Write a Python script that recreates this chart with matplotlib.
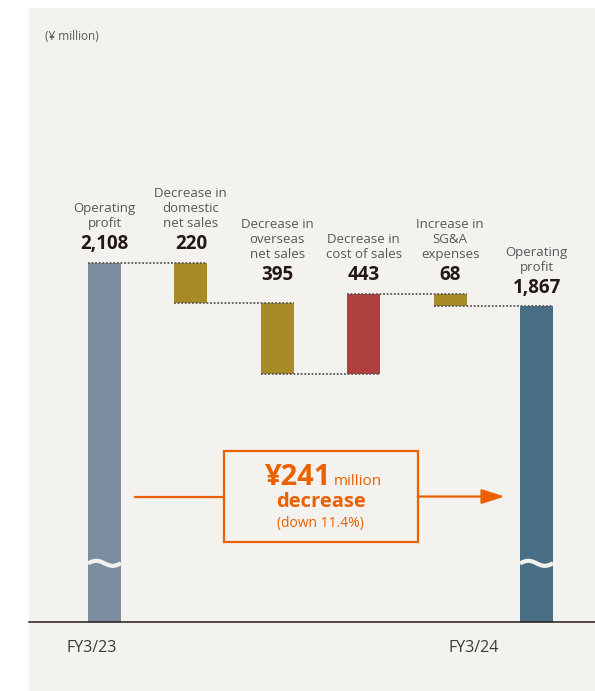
import numpy as np
import matplotlib.pyplot as plt
from matplotlib.patches import Rectangle

plt.rcParams['font.family'] = ['Open Sans', 'DejaVu Sans']

# data
labels = ['Operating\nprofit', 'Decrease in\ndomestic\nnet sales', 'Decrease in\noverseas\nnet sales',
          'Decrease in\ncost of sales', 'Increase in\nSG&A\nexpenses', 'Operating\nprofit']
value_text = ['2,108', '220', '395', '443', '68', '1,867']
start = 2108
changes = [-220, -395, 443, -68]
end = 1867
years = ['FY3/23', 'FY3/24']
summary_amount = '¥241'
summary_pct = '(down 11.4%)'

grey_bar = '#7b8d9e'
dark_bar = '#4a6e85'
gold = '#a88a27'
red = '#b03f40'
orange = '#eb6100'
panel = '#f3f2ee'

fig = plt.figure(figsize=(5.95, 6.91), dpi=100)
fig.patch.set_facecolor('white')
fig.patches.append(Rectangle((29 / 595, 0), 1, 1 - 8 / 691, transform=fig.transFigure,
                             facecolor=panel, edgecolor='none', zorder=-10))

ax = fig.add_axes([29 / 595, 69 / 691, 566 / 595, 614 / 691])
ax.set_facecolor('none')

x = np.arange(6)
w = 0.38

# running totals
levels = [start]
for c in changes:
    levels.append(levels[-1] + c)

ax.bar(x[0], start, width=w, color=grey_bar, zorder=2)
ax.bar(x[5], end, width=w, color=dark_bar, zorder=2)
for i, c in enumerate(changes):
    lo = min(levels[i], levels[i + 1])
    ax.bar(x[i + 1], abs(c), bottom=lo, width=w, color=red if c > 0 else gold, zorder=2)

# dotted connectors
for i in range(5):
    ax.plot([x[i] - w / 2, x[i + 1] + w / 2], [levels[i]] * 2,
            color='#595757', lw=1.3, ls=(0, (1, 1)), zorder=3)

# labels above bars
tops = [start, levels[0], max(levels[2], levels[3]), max(levels[2], levels[3]),
        max(levels[3], levels[4]), end]
for i in range(6):
    ax.annotate(value_text[i], (x[i], tops[i]), xytext=(0, 10), textcoords='offset points',
                ha='center', va='baseline', fontsize=13.5, fontweight='bold', color='#231815')
    ax.annotate(labels[i], (x[i], tops[i]), xytext=(0, 23.5), textcoords='offset points',
                ha='center', va='bottom', fontsize=9.5, color='#595757', linespacing=1.2)

# axis break marks
brk = 440
t = np.linspace(0, 1, 50)
for i in [0, 5]:
    ax.plot(x[i] - w / 2 + t * w, brk + 14 * np.sin(2 * np.pi * t),
            color=panel, lw=3, zorder=4, solid_capstyle='butt')

# summary box and arrow
bx0, bx1 = 1.381, 3.624
by0, by1 = 558, 1064
cy = (by0 + by1) / 2
cx = (bx0 + bx1) / 2
ax.add_patch(Rectangle((bx0, by0), bx1 - bx0, by1 - by0, facecolor='none',
                       edgecolor=orange, lw=1.6, zorder=5))
ax.plot([0.353, bx0], [cy, cy], color=orange, lw=1.6, zorder=5)
ax.annotate('', xy=(4.63, cy), xytext=(bx1, cy),
            arrowprops=dict(arrowstyle='-|>,head_length=1.4,head_width=0.45',
                            color=orange, lw=1.6, shrinkA=0, shrinkB=0), zorder=5)
ax.annotate(summary_amount, (cx, cy), xytext=(8, 8.3), textcoords='offset points',
            ha='right', va='baseline', fontsize=21, fontweight='bold', color=orange)
ax.annotate('million', (cx, cy), xytext=(9.4, 8.3), textcoords='offset points',
            ha='left', va='baseline', fontsize=11, color=orange)
ax.annotate('decrease', (cx, cy), xytext=(0, -7.6), textcoords='offset points',
            ha='center', va='baseline', fontsize=14.5, fontweight='bold', color=orange)
ax.annotate(summary_pct, (cx, cy), xytext=(0, -22), textcoords='offset points',
            ha='center', va='baseline', fontsize=10, color=orange)

ax.set_xlim(-0.873, 5.676)
ax.set_ylim(114, 3525)

for s in ['top', 'right', 'left']:
    ax.spines[s].set_visible(False)
ax.spines['bottom'].set_color('#231815')
ax.spines['bottom'].set_linewidth(1.1)
ax.set_yticks([])
ax.set_xticks([-0.145, 4.27])
ax.set_xticklabels(years, fontsize=11.5, color='#3e3a39')
ax.tick_params(axis='x', length=0, pad=13)

fig.text(45 / 595, 1 - 36 / 691, '(¥ million)', fontsize=8.5, color='#595757', va='center')

fig.savefig('out.png', dpi=100)
